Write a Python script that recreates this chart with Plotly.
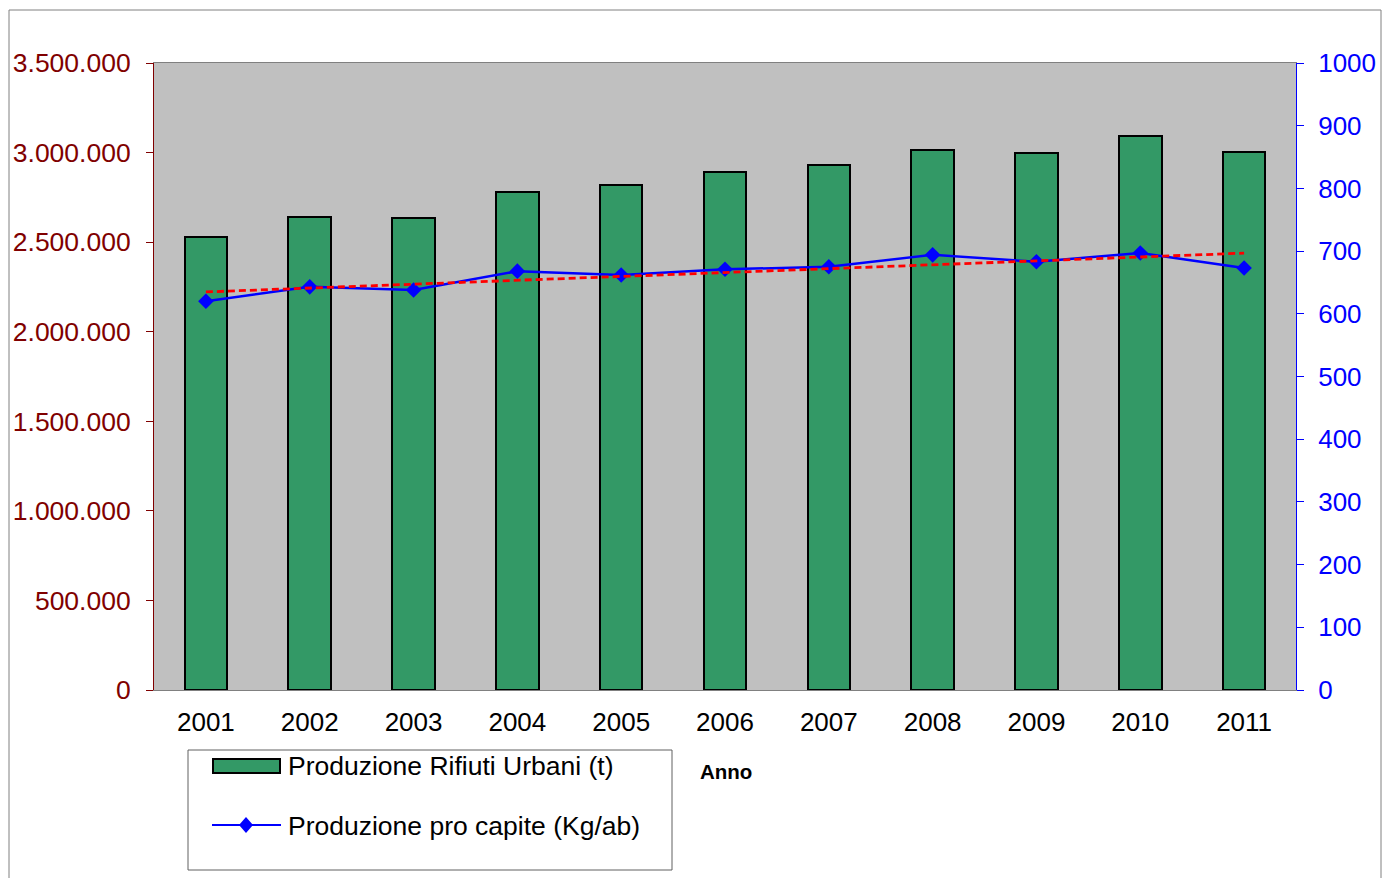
import numpy as np
import plotly.graph_objects as go

# --- data -----------------------------------------------------------------
anni = [2001, 2002, 2003, 2004, 2005, 2006, 2007, 2008, 2009, 2010, 2011]
rifiuti_t = [2530000, 2640000, 2635000, 2780000, 2820000, 2890000,
             2930000, 3015000, 2998000, 3092000, 3003000]
pro_capite = [620, 643, 638, 668, 662, 671, 675, 694, 683, 697, 673]
left_ticks = [0, 500000, 1000000, 1500000, 2000000, 2500000, 3000000, 3500000]
right_ticks = [0, 100, 200, 300, 400, 500, 600, 700, 800, 900, 1000]

# linear trend of the per-capita series
coef = np.polyfit(anni, pro_capite, 1)
trend = np.polyval(coef, anni)

FONT = "Liberation Sans, Arial, sans-serif"
DARKRED = "#800000"
BLUE = "#0000FF"
GREEN = "#339966"
GRAY = "#808080"

W, H = 1382, 878
L, R, T, B = 154, 1296, 63, 690


def px(x):
    return (x - L) / (R - L)


def py(y):
    return (B - y) / (B - T)


boundaries = [a - 0.5 for a in anni] + [anni[-1] + 0.5]

fig = go.Figure()

fig.add_trace(go.Bar(
    x=anni, y=rifiuti_t, width=0.41,
    marker=dict(color=GREEN, line=dict(color="black", width=2)),
    name="Produzione Rifiuti Urbani (t)", yaxis="y", showlegend=False,
))
fig.add_trace(go.Scatter(
    x=anni, y=pro_capite, mode="lines+markers", yaxis="y2",
    line=dict(color=BLUE, width=2.5),
    marker=dict(symbol="diamond", size=12, color=BLUE),
    name="Produzione pro capite (Kg/ab)", showlegend=False,
))
fig.add_trace(go.Scatter(
    x=anni, y=trend, mode="lines", yaxis="y2",
    line=dict(color="#FF0000", width=2.8, dash="7px,4px"),
    showlegend=False, hoverinfo="skip",
))

xr = [anni[0] - 0.5, anni[-1] + 0.5]
yr_left = [0, left_ticks[-1]]
yr_right = [0, right_ticks[-1]]

shapes = []
# outer chart frame
shapes.append(dict(type="rect", xref="paper", yref="paper",
                   x0=px(9), x1=px(1381), y0=py(900), y1=py(10),
                   line=dict(color=GRAY, width=1), layer="below"))
# legend box
shapes.append(dict(type="rect", xref="paper", yref="paper",
                   x0=px(188), x1=px(672), y0=py(870), y1=py(750),
                   line=dict(color="#606060", width=1), fillcolor="white"))
# legend swatch: bars
shapes.append(dict(type="rect", xref="paper", yref="paper",
                   x0=px(213), x1=px(280), y0=py(773), y1=py(759),
                   line=dict(color="black", width=2), fillcolor=GREEN))
# legend swatch: line with diamond
shapes.append(dict(type="line", xref="paper", yref="paper",
                   x0=px(212), x1=px(281), y0=py(825), y1=py(825),
                   line=dict(color=BLUE, width=2)))
cx, cy, dx, dy = 246, 825, 7, 8
shapes.append(dict(type="path", xref="paper", yref="paper",
                   path=(f"M {px(cx - dx)} {py(cy)} L {px(cx)} {py(cy - dy)} "
                         f"L {px(cx + dx)} {py(cy)} L {px(cx)} {py(cy + dy)} Z"),
                   line=dict(color=BLUE, width=0), fillcolor=BLUE))

annotations = [
    dict(text="Produzione Rifiuti Urbani (t)", xref="paper", yref="paper",
         x=px(286), y=py(766), xanchor="left", yanchor="middle",
         showarrow=False, font=dict(family=FONT, size=26.5, color="black")),
    dict(text="Produzione pro capite (Kg/ab)", xref="paper", yref="paper",
         x=px(286), y=py(826), xanchor="left", yanchor="middle",
         showarrow=False, font=dict(family=FONT, size=26.5, color="black")),
    dict(text="<b>Anno</b>", xref="paper", yref="paper",
         x=px(726), y=py(771), xanchor="center", yanchor="middle",
         showarrow=False, font=dict(family=FONT, size=20.5, color="black")),
]

common = dict(automargin=False, showgrid=False, zeroline=False)

fig.update_layout(
    width=W, height=H,
    margin=dict(l=L, r=W - R, t=T, b=H - B, pad=0, autoexpand=False),
    paper_bgcolor="white", plot_bgcolor="#C0C0C0",
    separators=",.",
    font=dict(family=FONT, size=26, color="black"),
    bargap=0,
    shapes=shapes, annotations=annotations,
    xaxis=dict(range=xr, tickmode="array", tickvals=anni,
               ticktext=[str(a) for a in anni], ticks="",
               ticklabelstandoff=9,
               showline=True, linecolor=GRAY, linewidth=1, mirror=True,
               tickfont=dict(family=FONT, size=26, color="black"), **common),
    xaxis2=dict(range=xr, overlaying="x", anchor="y", side="bottom",
                tickmode="array", tickvals=boundaries, ticks="outside",
                ticklen=8, tickwidth=1, tickcolor=GRAY,
                showticklabels=False, showline=False, **common),
    xaxis3=dict(range=xr, overlaying="x", anchor="y", side="bottom",
                tickmode="array", tickvals=boundaries, ticks="inside",
                ticklen=7, tickwidth=1, tickcolor=GRAY,
                showticklabels=False, showline=False, **common),
    yaxis=dict(range=yr_left, tickmode="array", tickvals=left_ticks,
               tickformat=",d", ticks="outside", ticklen=7, tickwidth=1,
               tickcolor=DARKRED, showline=True, linecolor=DARKRED,
               linewidth=1, ticklabelstandoff=10,
               tickfont=dict(family=FONT, size=26.5, color=DARKRED), **common),
    yaxis3=dict(range=yr_left, overlaying="y", anchor="x", side="left",
                tickmode="array", tickvals=left_ticks, ticks="inside",
                ticklen=8, tickwidth=1, tickcolor=DARKRED,
                showticklabels=False, showline=False, **common),
    yaxis2=dict(range=yr_right, overlaying="y", anchor="x", side="right",
                tickmode="array", tickvals=right_ticks, ticks="outside",
                ticklen=7, tickwidth=1, tickcolor=BLUE,
                showline=True, linecolor=BLUE, linewidth=1,
                ticklabelstandoff=9,
                tickfont=dict(family=FONT, size=26, color=BLUE), **common),
    yaxis4=dict(range=yr_right, overlaying="y", anchor="x", side="right",
                tickmode="array", tickvals=right_ticks, ticks="inside",
                ticklen=8, tickwidth=1, tickcolor=BLUE,
                showticklabels=False, showline=False, **common),
)

fig.write_html("out.html")
